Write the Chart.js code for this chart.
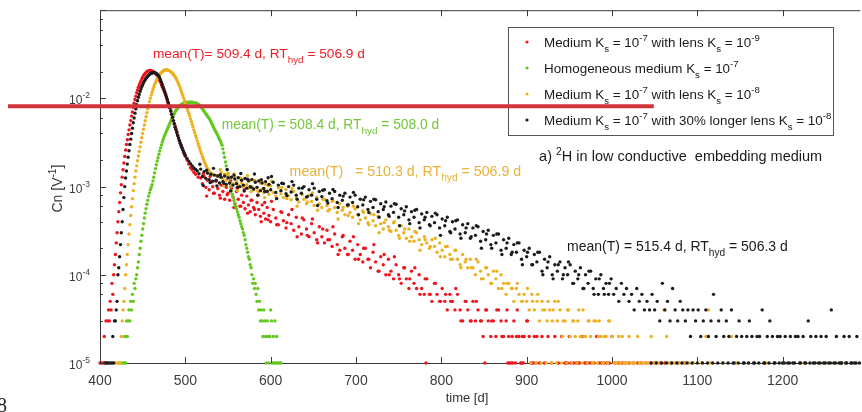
<!DOCTYPE html>
<html>
<head>
<meta charset="utf-8">
<script src="https://cdn.jsdelivr.net/npm/chart.js@4.4.0/dist/chart.umd.min.js"></script>
<style>
  html, body { margin: 0; padding: 0; background: #fff; overflow: hidden; }
  #wrap { width: 862px; height: 412px; }
</style>
</head>
<body>
<div id="wrap"><canvas id="grafico" width="862" height="412"></canvas></div>
<script>
// fonte e cores
const FONT = "'Liberation Sans', Arial, Helvetica, sans-serif";
const COR_VERMELHO = '#f0141c';
const COR_VERDE = '#62c81e';
const COR_LARANJA = '#edb022';
const COR_PRETO = '#1c1c1c';

// ticks do eixo do tempo
const ticksTempo = [400, 500, 600, 700, 800, 900, 1000, 1100, 1200];

// dados: [tempo (d), Cn em unidades de 1e-5 V^-1]
// Medium Ks = 1e-7 with lens Ks = 1e-9
const lensK9 = [
  [400,1],[402,1],[404,1],[405,2],[406,1],[407,3],[408,1],[409,3],[410,4],[411,3],[412,5],[413,4],[414,8],[415,6],
  [416,10],[417,13],[418,17],[419,23],[420,30],[421,40],[422,52],[423,66],[424,85],[425,105],[426,128],[427,155],
  [428,185],[429,220],[430,260],[431,300],[432,340],[433,390],[434,440],[435,500],[436,560],[437,630],[438,700],
  [439,790],[440,880],[441,970],[442,1060],[443,1160],[444,1250],[445,1340],[446,1420],[447,1500],[448,1580],
  [449,1660],[450,1740],[451,1810],[452,1870],[453,1920],[454,1970],[455,2010],[456,2040],[457,2060],[458,2070],
  [459,2070],[460,2060],[461,2040],[462,2020],[463,1990],[464,1960],[465,1920],[466,1870],[467,1830],[468,1780],
  [469,1690],[470,1600],[471,1510],[472,1420],[473,1350],[474,1290],[475,1220],[476,1150],[477,1080],[478,1000],
  [479,930],[480,870],[481,820],[482,780],[483,720],[484,660],[485,610],[486,560],[487,520],[488,490],[489,450],
  [490,420],[491,385],[492,355],[493,335],[494,315],[495,297],[496,280],[497,262],[498,245],[499,232],[500,220],
  [502,200],[504,180],[506,164],[508,155],[510,145],[512,138],[515,128],
  [518,125],[520,108],[522,130],[524,98],[526,118],[528,92],[530,112],[532,100],[534,84],[536,115],[538,95],
  [540,80],[542,104],[544,88],[546,72],[548,98],[550,84],[552,70],[554,95],[556,76],[558,64],[560,88],[562,72],
  [564,60],[566,80],[568,66],[570,56],[572,78],[574,62],[576,52],[578,70],[580,58],[582,48],[584,66],[586,55],
  [588,46],[590,62],[592,50],[594,43],[596,58],[598,47],[600,40],[603,55],[606,44],[609,37],[612,52],[615,41],
  [618,34],[621,48],[624,38],[627,32],[630,45],[633,35],[636,29],[639,42],[642,33],[645,27],[648,38],[651,30],
  [654,25],[657,35],[660,27],[663,23],[666,32],[669,25],[672,21],[675,29],[678,22],[681,19],[684,27],[687,20],
  [690,17],[693,24],[696,19],[699,15],[702,22],[705,17],[708,14],[711,20],[714,15],[717,12],[720,18],[723,14],
  [726,11],[729,16],[732,13],[735,10],[738,15],[741,11],[744,9],[747,13],[750,10],[753,8],[756,12],[759,9],
  [762,7],[765,11],[768,8],[771,7],[774,10],[777,7],[780,6],[782,1],[783,9],[786,6],[789,5],[792,8],[795,6],
  [798,5],[801,7],[804,5],[807,4],[810,6],[813,5],[816,4],[819,6],[822,4],[825,3],[828,5],[831,4],[834,3],
  [837,5],[840,3],[843,4],[846,3],[849,2],[851,1],[852,4],[855,3],[858,2],[861,3],[864,2],[867,4],[870,3],
  [873,2],[876,3],[878,1],[879,2],[880,1],[882,1],[884,1],[885,3],[887,1],[888,2],[891,2],[893,1],[894,1],
  [896,1],[897,2],[900,3],[903,2],[905,1],[906,1],[908,1],[909,2],[911,1],[912,2],[915,1],[918,2],[921,1],
  [925,2],[929,1],[933,2],[937,1],[941,2],[945,1],[946,1],[948,1],[950,2],[952,1],[955,1],[958,1],[960,1],
  [962,1],[965,2],[968,1],[970,1],[973,1],[976,1],[979,1],[982,2],[985,1],[988,1],[991,1],[994,1],[997,1],
  [1000,2],[1004,1],[1008,1],[1012,1],[1016,1],[1020,1],[1025,1],[1030,1],[1034,1],[1040,1],[1045,1],[1050,1],
  [1056,1],[1062,1],[1070,1],[1078,1],[1085,1],
  [521,140],[525,78],[529,130],[533,84],[537,133],[541,74],[545,103],[549,81],[553,117],[557,58],[561,95],
  [565,60],[569,92],[573,50],[577,70],[581,55],[585,80],[589,40],[593,66],[597,42],[601,68],[607,37],[613,51],
  [619,39],[625,55],[631,27],[637,44],[643,28],[649,43],[655,23],[661,33],[667,25],[673,35],[679,17],[685,28],
  [691,17],[697,27],[703,15],[709,20],[715,15],[721,22],[727,11],[733,17],[739,10],[745,16],[751,9],[757,12],
  [763,9],[769,12],[775,6],[781,9],[787,6],[793,8],[799,5],[805,6],[811,5],[817,7],[823,3],[829,5],[835,3],
  [841,5],[847,3],[853,4],[859,3],[865,4],[871,2],[877,4],[883,2],[889,4],[895,2],[901,3]
];

// Homogeneous medium Ks = 1e-7
const homogeneo = [
  [426,1],[428,1],[429,2],[430,1],[431,3],[432,2],[433,3],[434,4],[435,3],[436,5],[437,4],[438,6],[439,5],
  [440,8],[441,7],[442,9],[443,10],[444,12],[445,14],[446,17],[447,20],[448,24],[449,28],[450,33],[451,38],
  [452,44],[453,50],[454,56],[455,63],[456,70],[457,78],[458,85],[459,92],[460,98],[461,105],[462,116],
  [463,128],[464,143],[465,160],[466,177],[467,195],[468,213],[469,232],[470,253],[471,275],[472,297],
  [473,320],[474,342],[475,365],[476,385],[477,405],[478,428],[479,450],[480,475],[481,500],[482,527],
  [483,555],[484,582],[485,610],[486,640],[487,670],[488,700],[489,730],[490,755],[491,780],[492,800],
  [493,820],[494,835],[495,850],[496,860],[497,870],[498,878],[499,885],[500,890],[501,895],[502,898],
  [503,900],[504,903],[505,905],[506,905],[507,905],[508,903],[509,900],[510,895],[511,890],[512,885],
  [513,880],[514,870],[515,860],[516,845],[517,830],[518,810],[519,790],[520,765],[521,740],[522,715],
  [523,690],[524,670],[525,650],[526,630],[527,610],[528,590],[529,570],[530,545],[531,520],[532,495],
  [533,470],[534,450],[535,430],[536,415],[537,400],[538,380],[539,360],[540,345],[541,330],[542,312],
  [543,295],[544,268],[545,240],[546,215],[547,190],[548,172],[549,155],[550,140],[551,125],[552,112],
  [553,100],[554,90],[555,82],[556,76],[557,70],[558,65],[559,60],[560,56],[561,52],[562,48],[563,45],
  [564,41],[565,38],[566,35],[567,33],[568,30],[569,28],[570,25],[571,22],[572,20],[573,18],[574,16],
  [575,15],[576,13],[577,12],[578,10],[579,8],[580,9],[581,7],[582,8],[583,6],[584,5],[585,7],[586,4],
  [587,5],[588,3],[589,4],[590,3],[591,2],[592,4],[593,3],[594,2],[595,1],[596,3],[597,2],[598,1],[599,2],
  [600,4],[601,3],[602,1],[603,2],[604,1],[605,3],[606,1],[607,2],[608,1],[610,1],[612,1]
];

// Medium Ks = 1e-7 with lens Ks = 1e-8
const lensK8 = [
  [418,1],[420,1],[422,1],[423,1],[424,1],[425,2],[426,3],[427,4],[428,5],[429,7],[430,10],[431,13],[432,17],
  [433,22],[434,29],[435,37],[436,47],[437,59],[438,73],[439,90],[440,108],[441,128],[442,150],[443,172],
  [444,196],[445,222],[446,250],[447,282],[448,318],[449,358],[450,400],[451,448],[452,500],[453,558],
  [454,620],[455,688],[456,760],[457,838],[458,920],[459,1005],[460,1090],[461,1175],[462,1260],[463,1345],
  [464,1430],[465,1510],[466,1590],[467,1665],[468,1735],[469,1800],[470,1860],[471,1915],[472,1965],
  [473,2010],[474,2045],[475,2075],[476,2095],[477,2105],[478,2110],[479,2105],[480,2090],[481,2065],
  [482,2040],[483,2005],[484,1970],[485,1925],[486,1880],[487,1820],[488,1760],[489,1690],[490,1620],
  [491,1545],[492,1470],[493,1390],[494,1310],[495,1230],[496,1150],[497,1080],[498,1010],[499,945],
  [500,890],[501,835],[502,780],[503,730],[504,680],[505,635],[506,590],[507,550],[508,510],[509,475],
  [510,440],[511,410],[512,380],[513,355],[514,330],[515,307],[516,285],[517,267],[518,250],[519,235],
  [520,220],[521,207],[522,195],[523,185],[524,175],[525,167],[526,160],[527,155],[528,150],[530,143],
  [532,138],[535,134],[538,132],
  [540,128],[542,145],[544,122],[546,138],[548,118],[550,132],[552,112],[554,128],[556,108],[558,130],
  [560,114],[562,104],[564,125],[566,110],[568,100],[570,122],[572,105],[574,96],[576,118],[578,100],
  [580,92],[582,114],[584,97],[586,88],[588,110],[590,94],[592,85],[594,106],[596,90],[598,82],[600,102],
  [603,86],[606,78],[609,97],[612,83],[615,75],[618,93],[621,79],[624,71],[627,88],[630,75],[633,67],
  [636,84],[639,72],[642,64],[645,80],[648,68],[651,61],[654,76],[657,64],[660,58],[663,72],[666,61],
  [669,55],[672,68],[675,58],[678,51],[681,64],[684,54],[687,48],[690,60],[693,51],[696,45],[699,56],
  [702,48],[705,42],[708,53],[711,44],[714,39],[717,49],[720,41],[723,36],[726,46],[729,38],[732,33],
  [735,42],[738,35],[741,31],[744,39],[747,32],[750,28],[753,36],[756,30],[759,26],[762,33],[765,27],
  [768,24],[771,30],[774,25],[777,22],[780,27],[783,23],[786,20],[789,25],[792,21],[795,18],[798,23],
  [801,19],[804,16],[807,21],[810,17],[813,15],[816,19],[819,15],[822,13],[825,17],[828,14],[831,12],
  [834,15],[837,12],[840,10],[843,14],[846,11],[849,9],[852,12],[855,10],[858,8],[861,11],[864,9],[867,7],
  [870,10],[873,8],[876,6],[879,8],[882,7],[885,5],[888,7],[891,6],[894,5],[897,6],[900,5],[903,4],[906,6],
  [909,4],[912,5],[915,3],[918,5],[921,4],[924,3],[927,4],[930,3],[933,5],[936,3],[939,4],[942,2],[945,3],
  [948,4],[951,2],[954,3],[957,2],[960,3],[963,2],[966,4],[969,2],[972,3],[975,2],[978,1],[981,3],[984,2],
  [987,2],[990,1],[993,2],[996,3],[1000,2],[1004,1],[1008,2],[1012,2],[1016,1],[1020,2],[1025,1],[1030,2],
  [1035,1],[1040,1],[1046,2],[1052,1],[1058,1],[1061,4],[1064,2],[1070,1],[1078,1],[1086,1],[1095,1],
  [1105,1],[1110,2],[1113,4],[1115,1],[1130,1],[1140,2],[1145,1],[1160,1],[1180,1],[1200,1],[1225,1],
  [1250,1],[1270,1],
  [905,1],[911,1],[917,1],[923,1],[929,1],[935,1],[941,1],[947,1],[953,1],[959,1],[965,1],[971,1],[977,1],
  [983,1],[989,1],[995,1],[1002,1],[1006,1],[1010,1],[1014,1],[1018,1],[1022,1],[1027,1],[1032,1],[1037,1],
  [1043,1],[1049,1],[1055,1],[1067,1],[1074,1],[1082,1],[1090,1],
  [541,156],[545,102],[549,139],[553,105],[557,140],[561,90],[565,123],[569,103],[573,134],[577,88],[581,118],
  [585,89],[589,117],[593,75],[597,103],[601,115],[607,74],[613,98],[619,73],[625,95],[631,60],[637,81],
  [643,67],[649,85],[655,54],[661,72],[667,53],[673,69],[679,43],[685,58],[691,47],[697,60],[703,38],[709,51],
  [715,37],[721,48],[727,30],[733,39],[739,32],[745,40],[751,26],[757,33],[763,24],[769,31],[775,19],[781,25],
  [787,21],[793,26],[799,16],[805,21],[811,15],[817,19],[823,12],[829,15],[835,12],[841,15],[847,9],[853,12],
  [859,8],[865,11],[871,7],[877,8],[883,7],[889,8],[895,5],[901,7],[907,5],[913,6],[919,4],[925,5],[931,4],
  [937,5],[943,3],[949,4],[955,3],[961,4],[967,2],[973,3],[979,3],[985,3],[991,2],[997,3]
];

// Medium Ks = 1e-7 with 30% longer lens Ks = 1e-8
const lenteLonga = [
  [406,1],[408,1],[410,1],[412,1],[414,1],[415,2],[416,1],[417,3],[418,3],[419,4],[420,5],[421,10],[422,12],
  [423,16],[424,22],[425,30],[426,40],[427,55],[428,75],[429,100],[430,125],[431,150],[432,180],[433,215],
  [434,255],[435,300],[436,345],[437,400],[438,460],[439,530],[440,600],[441,680],[442,760],[443,850],
  [444,940],[445,1030],[446,1110],[447,1200],[448,1280],[449,1360],[450,1430],[451,1500],[452,1570],
  [453,1630],[454,1690],[455,1740],[456,1790],[457,1830],[458,1870],[459,1900],[460,1925],[461,1945],
  [462,1955],[463,1960],[464,1960],[465,1945],[466,1920],[467,1880],[468,1830],[469,1770],[470,1700],
  [471,1620],[472,1530],[473,1440],[474,1350],[475,1260],[476,1180],[477,1110],[478,1040],[479,970],
  [480,900],[481,840],[482,780],[483,720],[484,660],[485,610],[486,560],[487,515],[488,470],[489,440],
  [490,410],[491,380],[492,355],[493,332],[494,310],[495,292],[496,275],[497,261],[498,248],[499,236],
  [500,225],[502,208],[504,194],[506,182],[508,172],[510,163],[512,156],[514,150],
  [516,140],[518,158],[520,130],[522,148],[524,124],[526,142],[528,120],[530,138],[532,115],[534,135],
  [536,118],[538,132],[540,110],[542,128],[544,114],[546,132],[548,106],[550,126],[552,110],[554,128],
  [556,104],[558,122],[560,108],[562,126],[564,100],[566,118],[568,104],[570,124],[572,96],[574,116],
  [576,100],[578,120],[580,94],[582,112],[584,98],[586,116],[588,90],[590,110],[592,95],[594,114],[596,88],
  [598,106],[600,92],[603,112],[606,86],[609,104],[612,90],[615,108],[618,83],[621,100],[624,87],[627,104],
  [630,80],[633,96],[636,84],[639,100],[642,76],[645,92],[648,80],[651,96],[654,72],[657,88],[660,77],
  [663,92],[666,69],[669,84],[672,73],[675,88],[678,66],[681,80],[684,70],[687,84],[690,62],[693,76],
  [696,66],[699,80],[702,59],[705,72],[708,62],[711,76],[714,55],[717,68],[720,58],[723,71],[726,52],
  [729,64],[732,55],[735,67],[738,48],[741,60],[744,51],[747,63],[750,45],[753,56],[756,48],[759,59],
  [762,42],[765,52],[768,45],[771,55],[774,39],[777,49],[780,42],[783,51],[786,37],[789,46],[792,39],
  [795,48],[798,34],[801,43],[804,36],[807,45],[810,31],[813,40],[816,33],[819,42],[822,29],[825,37],
  [828,30],[831,38],[834,26],[837,34],[840,28],[843,35],[846,24],[849,31],[852,25],[855,32],[858,22],
  [861,28],[864,23],[867,29],[870,19],[873,25],[876,20],[879,26],[882,17],[885,22],[888,18],[891,23],
  [894,15],[897,19],[900,16],[903,20],[906,13],[909,17],[912,14],[915,18],[918,11],[921,15],[924,12],
  [927,16],[930,10],[933,13],[936,11],[939,14],[942,9],[945,12],[948,10],[951,13],[954,8],[957,11],
  [960,9],[963,12],[966,7],[969,10],[972,8],[975,11],[978,7],[981,9],[984,6],[987,10],[990,7],[993,8],
  [996,6],[999,9],[1002,6],[1005,7],[1008,5],[1011,8],[1014,6],[1017,7],[1020,5],[1023,6],[1026,4],
  [1029,7],[1032,5],[1035,6],[1038,4],[1041,5],[1044,4],[1047,6],[1050,4],[1053,5],[1056,3],[1059,8],
  [1062,4],[1065,5],[1068,3],[1071,7],[1074,4],[1077,3],[1080,5],[1083,4],[1086,3],[1089,4],[1092,2],
  [1095,4],[1098,3],[1101,4],[1104,2],[1107,3],[1110,4],[1113,2],[1116,3],[1119,6],[1122,2],[1125,3],
  [1128,4],[1131,2],[1134,3],[1137,2],[1140,4],[1143,1],[1146,2],[1149,3],[1152,2],[1155,1],[1158,2],
  [1161,3],[1164,2],[1167,1],[1170,2],[1173,2],[1176,4],[1179,1],[1182,2],[1185,3],[1188,2],[1191,1],
  [1194,2],[1197,2],[1200,1],[1203,2],[1206,1],[1209,2],[1212,1],[1215,2],[1218,2],[1221,1],[1224,2],
  [1227,1],[1230,3],[1233,2],[1236,1],[1239,2],[1242,1],[1245,2],[1248,1],[1251,2],[1254,1],[1257,4],
  [1260,1],[1263,2],[1266,1],[1269,1],[1272,2],[1275,1],[1278,2],[1281,1],[1284,1],[1287,2],[1290,1],
  [1046,1],[1052,1],[1058,1],[1064,1],[1070,1],[1076,1],[1082,1],[1088,1],[1094,1],[1100,1],[1106,1],
  [1112,1],[1118,1],[1124,1],[1130,1],[1136,1],[1142,1],[1148,1],[1154,1],[1160,1],[1166,1],[1172,1],
  [1178,1],[1184,1],[1190,1],[1196,1],[1202,1],[1208,1],[1214,1],[1220,1],[1226,1],[1232,1],[1238,1],
  [1244,1],[1250,1],[1256,1],[1262,1],[1268,1],[1274,1],[1280,1],[1286,1],
  [517,179],[521,103],[525,153],[529,111],[533,161],[537,102],[541,136],[545,110],[549,156],[553,89],[557,135],
  [561,98],[565,141],[569,89],[573,121],[577,98],[581,139],[585,80],[589,120],[593,88],[597,126],[601,130],
  [607,73],[613,109],[619,79],[625,114],[631,72],[637,96],[643,77],[649,108],[655,61],[661,91],[667,65],
  [673,93],[679,58],[685,78],[691,62],[697,86],[703,48],[709,71],[715,51],[721,72],[727,45],[733,59],[739,46],
  [745,64],[751,36],[757,53],[763,38],[769,54],[775,34],[781,45],[787,36],[793,50],[799,28],[805,41],[811,30],
  [817,41],[823,26],[829,34],[835,27],[841,36],[847,20],[853,29],[859,20],[865,29],[871,17],[877,23],[883,18],
  [889,23],[895,13],[901,18],[907,13],[913,18],[919,10],[925,14],[931,9],[937,13],[943,10],[949,14],[955,8],
  [961,10],[967,7],[973,11],[979,6],[985,9],[991,6],[997,8]
];

// textos da legenda (partes: 0 normal, 1 sobrescrito, -1 subscrito)
const legendaTextos = [
  [['Medium K',0],['s',-1],[' = 10',0],['-7',1],[' with lens K',0],['s',-1],[' = 10',0],['-9',1]],
  [['Homogeneous medium K',0],['s',-1],[' = 10',0],['-7',1]],
  [['Medium K',0],['s',-1],[' = 10',0],['-7',1],[' with lens K',0],['s',-1],[' = 10',0],['-8',1]],
  [['Medium K',0],['s',-1],[' = 10',0],['-7',1],[' with 30% longer lens K',0],['s',-1],[' = 10',0],['-8',1]]
];
const legendaCores = [COR_VERMELHO, COR_VERDE, COR_LARANJA, COR_PRETO];

// anotacoes no espaco dos dados (tempo, Cn)
const anotacoes = [
  { t: 462, cn: 0.0289, tam: 13.7, cor: '#ee1d25', partes: [['mean(T)= 509.4 d, RT',0],['hyd',-1],[' = 506.9 d',0]] },
  { t: 542.7, cn: 0.00449, tam: 13.8, cor: '#74c83a', partes: [['mean(T) = 508.4 d, RT',0],['hyd',-1],[' = 508.0 d',0]] },
  { t: 622.2, cn: 0.00133, tam: 14.2, cor: '#e8b23c', partes: [['mean(T)   = 510.3 d, RT',0],['hyd',-1],[' = 506.9 d',0]] },
  { t: 947.4, cn: 1.86e-4, tam: 14, cor: '#1a1a1a', partes: [['mean(T) = 515.4 d, RT',0],['hyd',-1],[' = 506.3 d',0]] },
  { t: 914.6, cn: 1.96e-3, tam: 14.5, cor: '#1a1a1a', partes: [['a) ',0],['2',1],['H in low conductive  embedding medium',0]] }
];

// escreve texto com sub/sobrescrito
function textoRico(ctx, x, y, partes, tam, cor) {
  ctx.fillStyle = cor;
  ctx.textAlign = 'left';
  ctx.textBaseline = 'alphabetic';
  for (const [txt, modo] of partes) {
    const fs = modo ? tam * 0.72 : tam;
    ctx.font = fs + 'px ' + FONT;
    const dy = modo === 1 ? -tam * 0.42 : (modo === -1 ? tam * 0.38 : 0);
    ctx.fillText(txt, x, y + dy);
    x += ctx.measureText(txt).width;
  }
  return x;
}
function larguraRica(ctx, partes, tam) {
  let w = 0;
  for (const [txt, modo] of partes) {
    ctx.font = (modo ? tam * 0.72 : tam) + 'px ' + FONT;
    w += ctx.measureText(txt).width;
  }
  return w;
}

// moldura estilo matlab, rotulos, legenda e anotacoes
const moldura = {
  id: 'moldura',
  afterDraw(chart) {
    const ctx = chart.ctx;
    const xs = chart.scales.x, ys = chart.scales.y;
    const a = chart.chartArea;
    ctx.save();
    ctx.strokeStyle = '#3a3a3a';
    ctx.lineWidth = 1;
    // borda superior
    ctx.beginPath();
    ctx.moveTo(a.left, a.top + 0.5);
    ctx.lineTo(a.right, a.top + 0.5);
    ctx.stroke();
    // ticks internos do eixo x
    xs.ticks.forEach(tk => {
      const px = Math.round(xs.getPixelForValue(tk.value)) + 0.5;
      ctx.beginPath();
      ctx.moveTo(px, a.bottom); ctx.lineTo(px, a.bottom - 6);
      ctx.moveTo(px, a.top); ctx.lineTo(px, a.top + 6);
      ctx.stroke();
    });
    // ticks internos do eixo y e rotulos 10^n
    ys.ticks.forEach(tk => {
      const lg = Math.log10(tk.value);
      const maior = Math.abs(lg - Math.round(lg)) < 1e-6;
      const py = Math.round(ys.getPixelForValue(tk.value)) + 0.5;
      ctx.beginPath();
      ctx.moveTo(a.left, py); ctx.lineTo(a.left + (maior ? 6 : 3), py);
      ctx.stroke();
      if (maior && Math.round(lg) < -1) {
        const exp = String(Math.round(lg));
        ctx.font = '8.5px ' + FONT;
        const w2 = ctx.measureText(exp).width;
        ctx.font = '12px ' + FONT;
        const w1 = ctx.measureText('10').width;
        const xd = a.left - 10;
        ctx.fillStyle = '#3c3c3c';
        ctx.textAlign = 'left';
        ctx.textBaseline = 'alphabetic';
        ctx.fillText('10', xd - w2 - w1, py + 5.5);
        ctx.font = '8.5px ' + FONT;
        ctx.fillText(exp, xd - w2, py - 0.5);
      }
    });
    // titulo do eixo y
    const tituloY = [['Cn [V',0],['-1',1],[']',0]];
    ctx.save();
    ctx.translate(62, (a.top + a.bottom) / 2 + 2);
    ctx.rotate(-Math.PI / 2);
    textoRico(ctx, -larguraRica(ctx, tituloY, 14) / 2, 0, tituloY, 14, '#333');
    ctx.restore();
    // titulo do eixo x
    ctx.font = '13px ' + FONT;
    ctx.fillStyle = '#333';
    ctx.textAlign = 'center';
    ctx.fillText('time [d]', 467, 402);
    // anotacoes
    anotacoes.forEach(n => {
      textoRico(ctx, xs.getPixelForValue(n.t), ys.getPixelForValue(n.cn), n.partes, n.tam, n.cor);
    });
    // legenda
    const bx = 508, by = 27, bw = 325, bh = 108;
    ctx.fillStyle = '#fff';
    ctx.fillRect(bx, by, bw, bh);
    ctx.strokeStyle = '#555';
    ctx.strokeRect(bx + 0.5, by + 0.5, bw, bh);
    legendaTextos.forEach((partes, i) => {
      const cy = 42 + i * 26;
      ctx.fillStyle = legendaCores[i];
      ctx.beginPath();
      ctx.arc(527, cy, 1.6, 0, Math.PI * 2);
      ctx.fill();
      textoRico(ctx, 544, cy + 4.5, partes, 13.4, '#1a1a1a');
    });
    // linha vermelha sobreposta
    ctx.strokeStyle = '#d2343b';
    ctx.lineWidth = 4;
    ctx.beginPath();
    const yl = ys.getPixelForValue(0.00813);
    ctx.moveTo(8, yl);
    ctx.lineTo(xs.getPixelForValue(1049), yl);
    ctx.stroke();
    // pedaco de texto no canto
    ctx.fillStyle = '#222';
    ctx.font = "20px 'Liberation Serif', serif";
    ctx.textAlign = 'left';
    ctx.fillText('8', -3, 412);
    ctx.restore();
  }
};

const paraPontos = s => s.map(([t, c]) => ({ x: t, y: c * 1e-5 }));

const ctx = document.getElementById('grafico').getContext('2d');
Chart.defaults.font.family = FONT;

new Chart(ctx, {
  type: 'scatter',
  data: {
    datasets: [
      { data: paraPontos(lensK9), backgroundColor: COR_VERMELHO, order: 4 },
      { data: paraPontos(homogeneo), backgroundColor: COR_VERDE, order: 3 },
      { data: paraPontos(lensK8), backgroundColor: COR_LARANJA, order: 2 },
      { data: paraPontos(lenteLonga), backgroundColor: COR_PRETO, order: 1 }
    ]
  },
  options: {
    responsive: false,
    animation: false,
    devicePixelRatio: 1,
    layout: { padding: { top: 8, left: 0, right: 0, bottom: 0 } },
    elements: { point: { radius: 1.7, borderWidth: 0, hoverRadius: 1.7 } },
    datasets: { scatter: { clip: false } },
    plugins: { legend: { display: false }, tooltip: { enabled: false } },
    scales: {
      x: {
        type: 'linear', min: 400, max: 1291,
        afterFit: s => { s.height = 49; },
        afterBuildTicks: s => { s.ticks = ticksTempo.map(v => ({ value: v })); },
        grid: { display: false, drawTicks: false },
        border: { color: '#3a3a3a', width: 1 },
        ticks: { padding: 10, color: '#3c3c3c', font: { size: 14 }, callback: v => String(v) }
      },
      y: {
        type: 'logarithmic', min: 1e-5, max: 1e-1,
        afterFit: s => { s.width = 100; },
        grid: { display: false, drawTicks: false },
        border: { color: '#3a3a3a', width: 1 },
        ticks: { callback: () => '' }
      }
    }
  },
  plugins: [moldura]
});
</script>
</body>
</html>
